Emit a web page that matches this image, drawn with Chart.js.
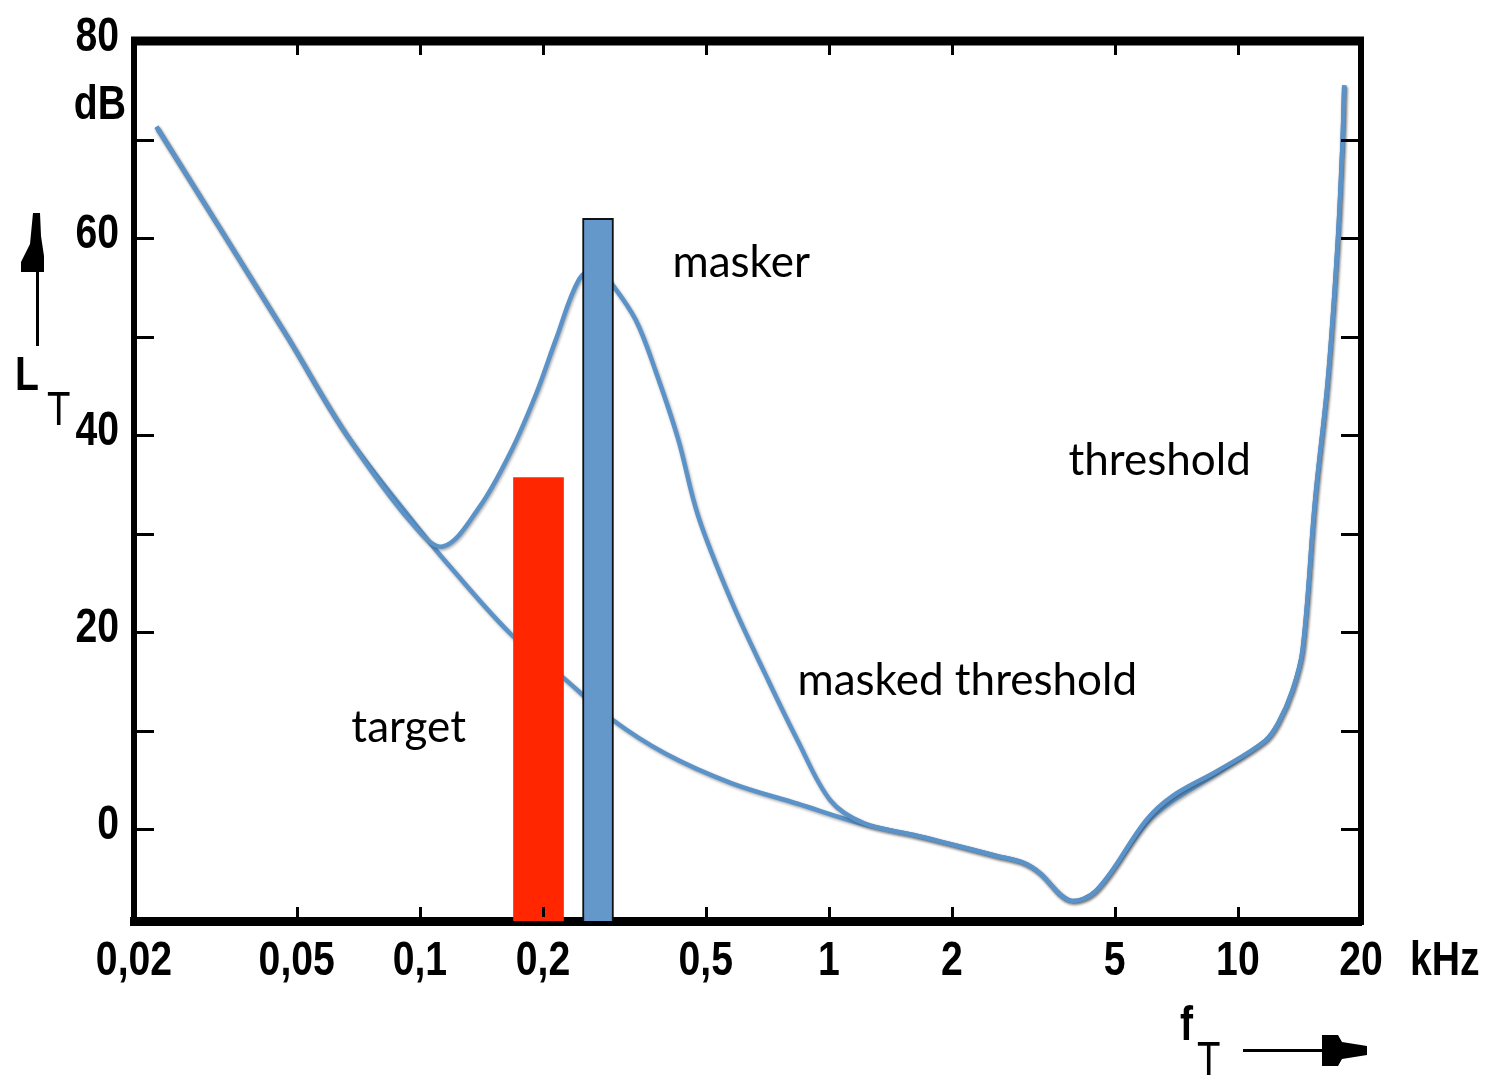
<!DOCTYPE html>
<html>
<head>
<meta charset="utf-8">
<script src="https://cdn.jsdelivr.net/npm/chart.js@4.4.1/dist/chart.umd.min.js"></script>
<style>
  html, body { margin: 0; padding: 0; background: #fff; }
  #wrap { position: relative; width: 1494px; height: 1079px; }
</style>
</head>
<body>
<div id="wrap"><canvas id="chart"></canvas></div>
<script>
// axis ticks
const xTicks = [0.02, 0.05, 0.1, 0.2, 0.5, 1, 2, 5, 10, 20];
const xTickLabels = ['0,02', '0,05', '0,1', '0,2', '0,5', '1', '2', '5', '10', '20'];
const yTicks = [0, 20, 40, 60, 80];
const yTickLabels = ['0', '20', '40', '60', '80'];
const yMinorTicks = [0, 10, 20, 30, 40, 50, 60, 70];
const yMin = -9.3;
const yMax = 80;

// threshold in quiet (kHz, dB)
const thresholdFreq = [0.0227, 0.0474, 0.0663, 0.1016, 0.116, 0.167, 0.2226, 0.294, 0.398, 0.577, 0.839,
    1.22, 1.62, 1.94, 2.57, 2.99, 3.27, 3.87, 4.51, 5.96, 6.93, 8.97, 11.67, 12.56, 13.6, 14.4,
    15.45, 16.6, 17.5, 18.0, 18.2];
const thresholdLevel = [71.3, 50, 40, 30, 27.1, 19.8, 15.5, 11.2, 7.7, 4.7, 2.6,
    0.5, -0.6, -1.4, -2.7, -3.4, -4.4, -7.2, -6.2, 0.6, 2.9, 5.8, 9.0, 10.8, 14.1, 18.2,
    33.4, 45.6, 58.8, 69, 75.5];

// masked threshold (kHz, dB)
const maskedFreq = [0.0227, 0.0474, 0.0663, 0.095, 0.1138, 0.1398, 0.1672, 0.192, 0.215, 0.245, 0.27,
    0.294, 0.337, 0.377, 0.428, 0.479, 0.577, 0.698, 0.839, 1.01, 1.22, 1.62, 1.94, 2.57, 2.99,
    3.27, 3.87, 4.51, 5.96, 6.93, 8.97, 11.67, 12.56, 13.6, 14.4, 15.45, 16.6, 17.5, 18.0, 18.2];
const maskedLevel = [71.3, 50, 40, 31.2, 28.7, 32.7, 38.4, 44.1, 49.7, 55.8, 57,
    55.4, 51.7, 46.5, 39.6, 31.8, 23.2, 15.8, 9.0, 2.9, 0.6, -0.6, -1.4, -2.7, -3.4,
    -4.4, -7.2, -6.2, 0.9, 3.4, 6.0, 9.0, 10.8, 14.1, 18.2, 33.4, 45.6, 58.8, 69, 75.5];

// target and masker tones
const targetFreq = 0.195;
const targetLevel = 35.7;
const maskerFreq = 0.2726;
const maskerLevel = 62.0;

// curve labels, anchored at (kHz, dB), left / baseline
const noteTexts = ['masker', 'target', 'threshold', 'masked threshold'];
const noteFreq = [0.4146, 0.068, 3.854, 0.838];
const noteLevel = [56.05, 8.87, 35.96, 13.64];

const AXIS_FONT = "'Liberation Sans', Arial, sans-serif";
const TEXT_FONT = "Lato, 'Open Sans', sans-serif";
const CURVE_COLOR = '#5b93c9';
const SQUEEZE = 0.8;

const toPoints = (xs, ys) => xs.map((x, i) => ({ x: x, y: ys[i] }));

// condensed text, like the narrow bold type of the original figure
function narrowText(ctx, text, x, y, align) {
    ctx.save();
    ctx.translate(x, y);
    ctx.scale(SQUEEZE, 1);
    ctx.textAlign = align;
    ctx.fillText(text, 0, 0);
    ctx.restore();
}

const curveShadow = {
    id: 'curveShadow',
    beforeDatasetDraw(chart, args) {
        const ctx = chart.ctx;
        ctx.save();
        if (args.meta.type === 'line') {
            ctx.shadowColor = 'rgba(0, 0, 0, 0.35)';
            ctx.shadowBlur = 3;
            ctx.shadowOffsetX = 1;
            ctx.shadowOffsetY = 1.5;
        }
    },
    afterDatasetDraw(chart) {
        chart.ctx.restore();
    }
};

const frame = {
    id: 'frame',
    afterDraw(chart) {
        const ctx = chart.ctx;
        const { left, right, top, bottom } = chart.chartArea;
        const xs = chart.scales.x;
        const ys = chart.scales.y;
        ctx.save();
        ctx.strokeStyle = '#000';
        ctx.fillStyle = '#000';

        // top and right border
        ctx.lineWidth = 9;
        ctx.beginPath();
        ctx.moveTo(left - 3, top);
        ctx.lineTo(right + 3, top);
        ctx.stroke();
        ctx.lineWidth = 6;
        ctx.beginPath();
        ctx.moveTo(right, top);
        ctx.lineTo(right, bottom + 4);
        ctx.stroke();

        // inward ticks
        ctx.lineWidth = 3;
        xTicks.slice(1, -1).forEach(v => {
            const px = Math.round(xs.getPixelForValue(v)) + 0.5;
            ctx.beginPath();
            ctx.moveTo(px, top + 4);
            ctx.lineTo(px, top + 14);
            ctx.moveTo(px, bottom - 4);
            ctx.lineTo(px, bottom - 14);
            ctx.stroke();
        });
        yMinorTicks.forEach(v => {
            const py = Math.round(ys.getPixelForValue(v)) + 0.5;
            ctx.beginPath();
            ctx.moveTo(left + 3, py);
            ctx.lineTo(left + 20, py);
            ctx.moveTo(right - 3, py);
            ctx.lineTo(right - 20, py);
            ctx.stroke();
        });

        // tick labels
        ctx.font = 'bold 49px ' + AXIS_FONT;
        ctx.textBaseline = 'alphabetic';
        xTicks.forEach((v, i) => {
            narrowText(ctx, xTickLabels[i], xs.getPixelForValue(v), bottom + 54, 'center');
        });
        ctx.textBaseline = 'middle';
        yTicks.forEach((v, i) => {
            narrowText(ctx, yTickLabels[i], left - 15, ys.getPixelForValue(v) - 4, 'right');
        });
        ctx.textBaseline = 'alphabetic';

        // units
        narrowText(ctx, 'dB', left - 8, ys.getPixelForValue(70) - 21, 'right');
        narrowText(ctx, 'kHz', xs.getPixelForValue(20) + 49, bottom + 54, 'left');

        // axis title L_T with arrow
        narrowText(ctx, 'L', 15, 390, 'left');
        ctx.font = '48px ' + AXIS_FONT;
        narrowText(ctx, 'T', 47, 425, 'left');
        ctx.lineWidth = 3;
        ctx.beginPath();
        ctx.moveTo(37.5, 346);
        ctx.lineTo(37.5, 266);
        ctx.stroke();
        ctx.beginPath();
        ctx.moveTo(33, 213);
        ctx.lineTo(40, 213);
        ctx.lineTo(41, 236);
        ctx.lineTo(44, 256);
        ctx.lineTo(44, 272);
        ctx.lineTo(21, 272);
        ctx.lineTo(21, 262);
        ctx.lineTo(30, 244);
        ctx.closePath();
        ctx.fill();

        // axis title f_T with arrow
        ctx.font = 'bold 49px ' + AXIS_FONT;
        narrowText(ctx, 'f', 1180, 1040, 'left');
        ctx.font = '48px ' + AXIS_FONT;
        narrowText(ctx, 'T', 1197, 1075, 'left');
        ctx.beginPath();
        ctx.moveTo(1243, 1050.5);
        ctx.lineTo(1325, 1050.5);
        ctx.stroke();
        ctx.beginPath();
        ctx.moveTo(1322, 1035);
        ctx.lineTo(1338, 1035);
        ctx.lineTo(1342, 1042);
        ctx.lineTo(1367, 1046);
        ctx.lineTo(1367, 1055);
        ctx.lineTo(1342, 1059);
        ctx.lineTo(1338, 1066);
        ctx.lineTo(1322, 1066);
        ctx.closePath();
        ctx.fill();

        // curve labels
        ctx.font = '44px ' + TEXT_FONT;
        ctx.textAlign = 'left';
        noteTexts.forEach((t, i) => {
            ctx.fillText(t, xs.getPixelForValue(noteFreq[i]), ys.getPixelForValue(noteLevel[i]));
        });
        ctx.restore();
    }
};

new Chart(document.getElementById('chart'), {
    type: 'line',
    data: {
        datasets: [
            {
                type: 'bar',
                label: 'masker',
                data: [{ x: maskerFreq, y: [yMin, maskerLevel] }],
                backgroundColor: '#6497ca',
                borderColor: '#111',
                borderWidth: 2,
                borderSkipped: 'bottom',
                barThickness: 31,
                grouped: false,
                order: 0
            },
            {
                type: 'bar',
                label: 'target',
                data: [{ x: targetFreq, y: [yMin, targetLevel] }],
                backgroundColor: '#ff2600',
                borderWidth: 0,
                barThickness: 50,
                grouped: false,
                order: 0
            },
            {
                label: 'masked threshold',
                data: toPoints(maskedFreq, maskedLevel),
                borderColor: CURVE_COLOR,
                borderWidth: 4.5,
                pointRadius: 0,
                tension: 0.35,
                fill: false,
                order: 1
            },
            {
                label: 'threshold',
                data: toPoints(thresholdFreq, thresholdLevel),
                borderColor: CURVE_COLOR,
                borderWidth: 4.5,
                pointRadius: 0,
                tension: 0.35,
                fill: false,
                order: 2
            }
        ]
    },
    options: {
        responsive: true,
        maintainAspectRatio: false,
        animation: false,
        devicePixelRatio: 1,
        layout: { padding: { top: 41, right: 133, left: 0, bottom: 0 } },
        plugins: {
            legend: { display: false },
            tooltip: { enabled: false }
        },
        scales: {
            x: {
                type: 'logarithmic',
                position: 'bottom',
                min: 0.02,
                max: 20,
                afterBuildTicks: s => { s.ticks = xTicks.map(v => ({ value: v })); },
                afterFit: s => { s.height = 158; },
                ticks: { display: false },
                grid: { display: false, drawTicks: false },
                border: { display: true, color: '#000', width: 9 }
            },
            y: {
                type: 'linear',
                min: yMin,
                max: yMax,
                afterBuildTicks: s => { s.ticks = yTicks.map(v => ({ value: v })); },
                afterFit: s => { s.width = 134; },
                ticks: { display: false },
                grid: { display: false, drawTicks: false },
                border: { display: true, color: '#000', width: 6 }
            }
        }
    },
    plugins: [curveShadow, frame]
});
</script>
</body>
</html>
